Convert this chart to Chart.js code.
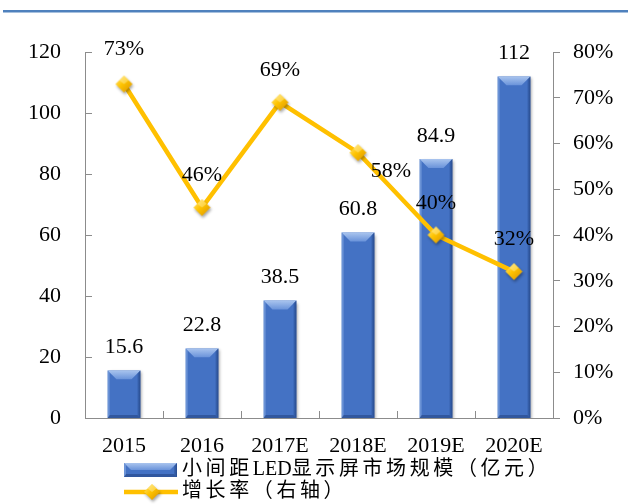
<!DOCTYPE html>
<html>
<head>
<meta charset="utf-8">
<script src="https://cdn.jsdelivr.net/npm/chart.js@4.4.0/dist/chart.umd.min.js"></script>
<style>
  html, body { margin: 0; padding: 0; background: #fff; }
  #wrap { width: 628px; height: 504px; position: relative; }
</style>
</head>
<body>
<div id="wrap"><canvas id="c" width="628" height="504"></canvas></div>
<script>
// Small-pitch LED display market size (100M CNY) and its growth rate
const categories = ['2015', '2016', '2017E', '2018E', '2019E', '2020E'];
const marketSize = [15.6, 22.8, 38.5, 60.8, 84.9, 112];
const growthRate = [73, 46, 69, 58, 40, 32];
const sizeTickStep = 20;
const sizeMax = 120;
const rateTickStep = 10;
const rateMax = 80;
const sizeLabel = '小间距LED显示屏市场规模（亿元）';
const rateLabel = '增长率（右轴）';

// Where each growth-rate label sits relative to its point
const rateLabelSide = ['top', 'top', 'top', 'right', 'top', 'top'];

const SERIF = '"Liberation Serif", "Times New Roman", "Noto Sans CJK SC", serif';
const AXIS_GRAY = '#8C8C8C';
const BAR_BLUE = '#4472C4';
const GOLD = '#FFC000';

// Shaded gold diamond used as the line's point marker
function makeDiamond(half) {
  const size = Math.ceil(half * 2 + 8);
  const cv = document.createElement('canvas');
  cv.width = size; cv.height = size;
  const g = cv.getContext('2d');
  const c = size / 2;
  g.save();
  g.shadowColor = 'rgba(0,0,0,0.35)';
  g.shadowBlur = 3;
  g.shadowOffsetX = 1;
  g.shadowOffsetY = 2;
  g.beginPath();
  g.moveTo(c, c - half); g.lineTo(c + half, c); g.lineTo(c, c + half); g.lineTo(c - half, c);
  g.closePath();
  const grad = g.createLinearGradient(c - half, c - half, c + half, c + half);
  grad.addColorStop(0, '#FFE680');
  grad.addColorStop(0.45, '#FFC400');
  grad.addColorStop(1, '#D99200');
  g.fillStyle = grad;
  g.fill();
  g.restore();
  // upper facet highlight
  g.beginPath();
  g.moveTo(c, c - half); g.lineTo(c + half * 0.55, c - half * 0.45); g.lineTo(c, c); g.lineTo(c - half * 0.55, c - half * 0.45);
  g.closePath();
  g.fillStyle = 'rgba(255,240,170,0.45)';
  g.fill();
  return cv;
}
const diamond = makeDiamond(8.5);
const legendDiamond = makeDiamond(8);

// Bevelled bar face: light top facet, lit left edge, shaded right and bottom edges
function drawBevel(ctx, L, R, T, B) {
  const w = R - L;
  const b = Math.min(9, w * 0.27, (B - T) / 2);
  ctx.save();
  let g = ctx.createLinearGradient(0, T, 0, T + b);
  g.addColorStop(0, '#A9C4EE');
  g.addColorStop(1, '#6A93DA');
  ctx.fillStyle = g;
  ctx.beginPath();
  ctx.moveTo(L, T); ctx.lineTo(R, T); ctx.lineTo(R - b, T + b); ctx.lineTo(L + b, T + b);
  ctx.closePath(); ctx.fill();
  // left lit edge
  ctx.fillStyle = 'rgba(140,175,230,0.55)';
  ctx.beginPath();
  ctx.moveTo(L, T); ctx.lineTo(L + 2, T + 2); ctx.lineTo(L + 2, B - 2); ctx.lineTo(L, B);
  ctx.closePath(); ctx.fill();
  // right shaded edge
  g = ctx.createLinearGradient(R - 3, 0, R, 0);
  g.addColorStop(0, 'rgba(40,80,150,0.35)');
  g.addColorStop(1, 'rgba(30,60,120,0.75)');
  ctx.fillStyle = g;
  ctx.beginPath();
  ctx.moveTo(R, T); ctx.lineTo(R, B); ctx.lineTo(R - 3, B - 3); ctx.lineTo(R - 3, T + 3);
  ctx.closePath(); ctx.fill();
  // bottom shaded edge
  ctx.fillStyle = 'rgba(30,60,120,0.5)';
  ctx.beginPath();
  ctx.moveTo(L, B); ctx.lineTo(R, B); ctx.lineTo(R - 3, B - 3); ctx.lineTo(L + 2, B - 3);
  ctx.closePath(); ctx.fill();
  ctx.restore();
}

// Draws a legend string with extra spacing after CJK glyphs only
function spacedText(ctx, text, x, y, cjkGap) {
  let cx = x;
  for (const ch of text) {
    ctx.fillText(ch, cx, y);
    cx += ctx.measureText(ch).width + (/[\u3000-\u9fff\uff00-\uffef]/.test(ch) ? cjkGap : 0);
  }
}

const frame = {
  id: 'frame',
  beforeDraw(chart) {
    const ctx = chart.ctx;
    ctx.save();
    ctx.fillStyle = '#fff';
    ctx.fillRect(0, 0, chart.width, chart.height);
    // rule along the top of the figure
    ctx.fillStyle = '#4F81BD';
    ctx.fillRect(3, 10, chart.width - 3, 2.5);
    ctx.restore();
  },
  afterDraw(chart) {
    // tick marks pointing into the plot on the left and bottom axes
    const ctx = chart.ctx;
    const ys = chart.scales.y, xs = chart.scales.x;
    const area = chart.chartArea;
    ctx.save();
    ctx.strokeStyle = AXIS_GRAY;
    ctx.lineWidth = 1;
    ctx.beginPath();
    ys.ticks.forEach(t => {
      const py = Math.round(ys.getPixelForValue(t.value)) + 0.5;
      ctx.moveTo(area.left, py); ctx.lineTo(area.left + 7, py);
    });
    for (let i = 1; i < categories.length; i++) {
      const px = Math.round((xs.getPixelForValue(i - 1) + xs.getPixelForValue(i)) / 2) + 0.5;
      ctx.moveTo(px, area.bottom); ctx.lineTo(px, area.bottom - 7);
    }
    ctx.stroke();
    ctx.restore();
  }
};

const barStyle = {
  id: 'barStyle',
  beforeDatasetDraw(chart, args) {
    if (args.index !== 0) return;
    const ctx = chart.ctx;
    ctx.save();
    ctx.shadowColor = 'rgba(0,0,0,0.35)';
    ctx.shadowBlur = 3;
    ctx.shadowOffsetX = 2;
    ctx.shadowOffsetY = 2;
  },
  afterDatasetDraw(chart, args) {
    if (args.index !== 0) return;
    const ctx = chart.ctx;
    ctx.restore();
    args.meta.data.forEach(el => {
      const p = el.getProps(['x', 'y', 'base', 'width'], true);
      drawBevel(ctx, p.x - p.width / 2, p.x + p.width / 2, p.y, p.base);
    });
  }
};

const valueLabels = {
  id: 'valueLabels',
  afterDatasetsDraw(chart) {
    const ctx = chart.ctx;
    ctx.save();
    ctx.font = '22px ' + SERIF;
    ctx.fillStyle = '#000';
    ctx.textAlign = 'center';
    ctx.textBaseline = 'middle';
    const bars = chart.getDatasetMeta(0).data;
    bars.forEach((el, i) => {
      ctx.fillText(String(marketSize[i]), el.x, el.y - 23);
    });
    const pts = chart.getDatasetMeta(1).data;
    pts.forEach((el, i) => {
      const txt = growthRate[i] + '%';
      if (rateLabelSide[i] === 'right') {
        ctx.fillText(txt, el.x + 33, el.y + 19);
      } else {
        ctx.fillText(txt, el.x, el.y - (i === 0 ? 35 : 32));
      }
    });
    ctx.restore();
  }
};

const legendBox = {
  id: 'legendBox',
  afterDraw(chart) {
    const ctx = chart.ctx;
    const ds = chart.data.datasets;
    ctx.save();
    // bar entry
    ctx.fillStyle = BAR_BLUE;
    ctx.fillRect(124, 463, 53, 14);
    drawBevel(ctx, 124, 177, 463, 477);
    // line entry
    ctx.strokeStyle = GOLD;
    ctx.lineWidth = 4.5;
    ctx.beginPath();
    ctx.moveTo(124, 492); ctx.lineTo(178, 492);
    ctx.stroke();
    ctx.drawImage(legendDiamond, 152 - legendDiamond.width / 2, 492 - legendDiamond.height / 2);
    ctx.fillStyle = '#000';
    ctx.font = '20px ' + SERIF;
    ctx.textAlign = 'left';
    ctx.textBaseline = 'middle';
    spacedText(ctx, ds[0].label, 182, 470, 3.6);
    spacedText(ctx, ds[1].label, 182, 492, 3.6);
    ctx.restore();
  }
};

new Chart(document.getElementById('c'), {
  data: {
    labels: categories,
    datasets: [
      {
        type: 'bar',
        label: sizeLabel,
        data: marketSize,
        yAxisID: 'y',
        backgroundColor: BAR_BLUE,
        borderWidth: 0,
        barPercentage: 0.42,
        categoryPercentage: 1,
        order: 2
      },
      {
        type: 'line',
        label: rateLabel,
        data: growthRate,
        yAxisID: 'y1',
        borderColor: GOLD,
        borderWidth: 4.5,
        tension: 0,
        pointStyle: diamond,
        pointRadius: 8.5,
        pointHoverRadius: 8.5,
        order: 1
      }
    ]
  },
  options: {
    responsive: false,
    animation: false,
    devicePixelRatio: 1,
    layout: { padding: { top: 52, left: 0, right: 0, bottom: 0 } },
    plugins: {
      legend: { display: false },
      tooltip: { enabled: false }
    },
    scales: {
      x: {
        type: 'category',
        offset: true,
        grid: { display: false },
        border: { display: true, color: AXIS_GRAY, width: 1 },
        ticks: { color: '#000', font: { family: SERIF, size: 22 }, padding: 7, maxRotation: 0, autoSkip: false },
        afterFit(s) { s.height = 86; }
      },
      y: {
        position: 'left',
        min: 0,
        max: sizeMax,
        grid: { display: false },
        border: { display: true, color: AXIS_GRAY, width: 1 },
        ticks: { stepSize: sizeTickStep, color: '#000', font: { family: SERIF, size: 22 }, padding: 16 },
        afterFit(s) { s.width = 85; }
      },
      y1: {
        position: 'right',
        min: 0,
        max: rateMax,
        grid: { display: true, drawOnChartArea: false, drawTicks: true, tickLength: 7, color: AXIS_GRAY },
        border: { display: true, color: AXIS_GRAY, width: 1 },
        ticks: { stepSize: rateTickStep, color: '#000', font: { family: SERIF, size: 22 }, padding: 13,
                 callback: v => v + '%' },
        afterFit(s) { s.width = 75; }
      }
    }
  },
  plugins: [frame, barStyle, valueLabels, legendBox]
});
</script>
</body>
</html>
